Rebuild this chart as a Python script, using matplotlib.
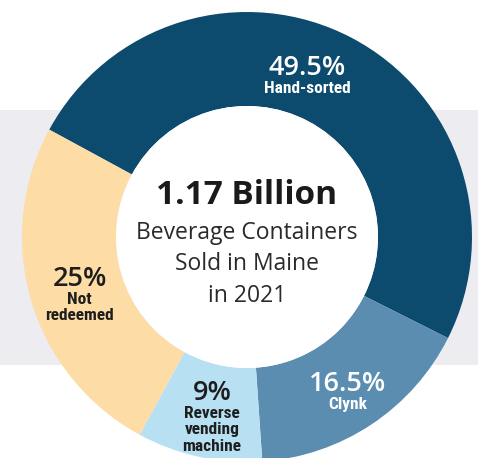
import numpy as np
import matplotlib
matplotlib.use("Agg")
import matplotlib.pyplot as plt
from matplotlib.patches import Rectangle, Circle

# ---- data ----
categories = ["Hand-sorted", "Clynk", "Reverse\nvending\nmachine", "Not\nredeemed"]
values = [49.5, 16.5, 9, 25]
pct_labels = ["49.5%", "16.5%", "9%", "25%"]
center_title = "1.17 Billion"
center_sub = ["Beverage Containers", "Sold in Maine", "in 2021"]

# ---- style ----
colors = ["#0c4b6e", "#5b8db1", "#b8e0f3", "#fddca6"]
text_colors = ["white", "white", "#1e1e1e", "#1e1e1e"]
W, H = 478, 458
cx, cy = 247, H - 237
R_out, R_in = 225, 131
label_r = [170, 186, 169, 175]
angle_nudge = [6.9, -0.7, 0.3, 0.5]

narrow = ["Roboto Condensed", "DejaVu Sans"]
sans = ["Open Sans", "DejaVu Sans"]

fig = plt.figure(figsize=(W / 100, H / 100), dpi=100)
fig.patch.set_facecolor("white")
ax = fig.add_axes([0, 0, 1, 1])

# gray band
ax.add_patch(Rectangle((0, H - 365), W, 255, facecolor="#ececf1", edgecolor="none", zorder=0))

wedges, _ = ax.pie(values, colors=colors, startangle=151.5, counterclock=False,
                   center=(cx, cy), radius=R_out,
                   wedgeprops=dict(width=R_out - R_in, edgecolor="none", linewidth=0))
for w in wedges:
    w.set_zorder(1)
ax.add_patch(Circle((cx, cy), R_in, facecolor="white", edgecolor="none", zorder=2))

ax.set_xlim(0, W)
ax.set_ylim(0, H)
ax.set_aspect("equal", adjustable="box")
ax.axis("off")

for w, cat, pct, tc, nud, lr in zip(wedges, categories, pct_labels, text_colors, angle_nudge, label_r):
    mid = np.deg2rad((w.theta1 + w.theta2) / 2 + nud)
    x = cx + lr * np.cos(mid)
    y = cy + lr * np.sin(mid)
    ax.text(x, y + 2.5, pct, ha="center", va="baseline", color=tc, fontsize=19.5,
            family=sans, fontweight="semibold", zorder=3)
    ax.text(x, y - 3.5, cat, ha="center", va="top", color=tc, fontsize=12.5,
            family=narrow, fontweight="bold", linespacing=1.12, zorder=3)

ax.text(cx, H - 192, center_title, ha="center", va="center_baseline", fontsize=24,
        fontweight="bold", color="#1a1a1a", family=sans, zorder=3)
for i, line in enumerate(center_sub):
    ax.text(cx, H - 230 - 31.5 * i, line, ha="center", va="center_baseline", fontsize=16.5,
            color="#2a2a2a", family=sans, zorder=3)

fig.savefig("out.png", dpi=100, facecolor="white")
